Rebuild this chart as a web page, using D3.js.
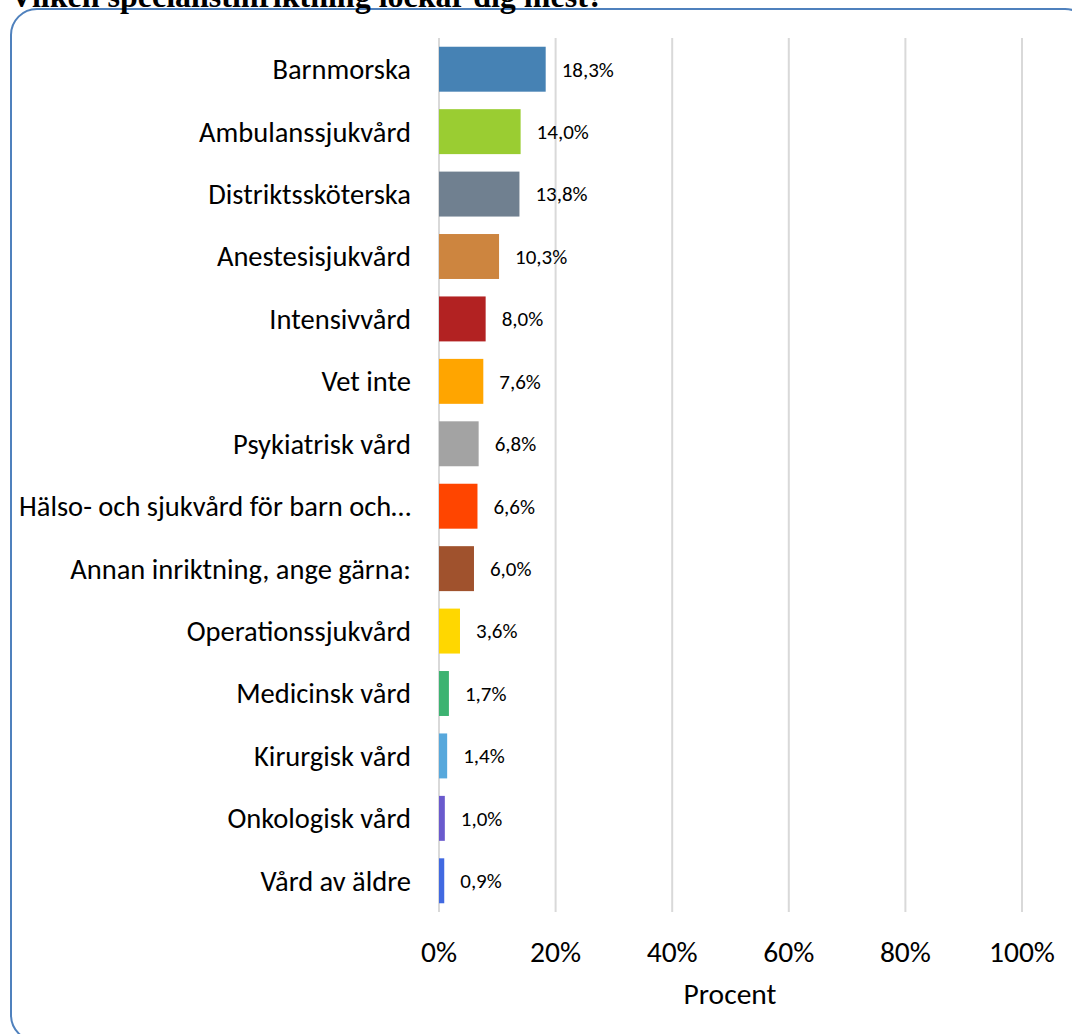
<!DOCTYPE html>
<html>
<head>
<meta charset="utf-8">
<script src="https://cdn.jsdelivr.net/npm/d3@7"></script>
<style>
  body { margin: 0; background: #fff; }
  svg { display: block; }
</style>
</head>
<body>
<svg width="1072" height="1034"></svg>
<script>
var categories = ["Barnmorska", "Ambulanssjukvård", "Distriktssköterska", "Anestesisjukvård",
  "Intensivvård", "Vet inte", "Psykiatrisk vård", "Hälso- och sjukvård för barn och…",
  "Annan inriktning, ange gärna:", "Operationssjukvård", "Medicinsk vård", "Kirurgisk vård",
  "Onkologisk vård", "Vård av äldre"];
var values = [18.3, 14.0, 13.8, 10.3, 8.0, 7.6, 6.8, 6.6, 6.0, 3.6, 1.7, 1.4, 1.0, 0.9];
var colors = ["#4682b4", "#9acd32", "#708090", "#cd853f", "#b22222", "#ffa500", "#a3a3a3",
  "#ff4500", "#a0522d", "#ffd700", "#3cb371", "#57a8dc", "#6a5acd", "#4169e1"];
var ticks = [0, 20, 40, 60, 80, 100];

var svg = d3.select("svg");
var font = "Carlito, Calibri, sans-serif";

// frame
svg.append("rect")
  .attr("x", 11).attr("y", 9)
  .attr("width", 1080).attr("height", 1032)
  .attr("rx", 26).attr("ry", 26)
  .attr("fill", "none")
  .attr("stroke", "#4f81bd")
  .attr("stroke-width", 2);

// title (cut off at top like the reference)
svg.append("text")
  .attr("x", 10).attr("y", 7)
  .attr("font-family", "'Liberation Serif', serif")
  .attr("font-weight", "bold")
  .attr("font-size", 32)
  .text("Vilken specialistinriktning lockar dig mest?");

var x = d3.scaleLinear().domain([0, 100]).range([439, 1022]);
var y = d3.scaleBand().domain(categories).range([38, 912]).paddingInner(0.28).paddingOuter(0.14);

// gridlines
svg.selectAll(".grid")
  .data(ticks)
  .enter()
  .append("line")
  .attr("x1", d => x(d)).attr("x2", d => x(d))
  .attr("y1", 38).attr("y2", 912)
  .attr("stroke", "#d9d9d9")
  .attr("stroke-width", 2);

// bars
svg.selectAll(".bar")
  .data(values)
  .enter()
  .append("rect")
  .attr("x", x(0))
  .attr("y", (d, i) => y(categories[i]))
  .attr("width", d => x(d) - x(0))
  .attr("height", y.bandwidth())
  .attr("fill", (d, i) => colors[i]);

// value labels
svg.selectAll(".val")
  .data(values)
  .enter()
  .append("text")
  .attr("x", d => x(d) + 16)
  .attr("y", (d, i) => y(categories[i]) + y.bandwidth() / 2)
  .attr("dy", "0.35em")
  .attr("font-family", font)
  .attr("font-size", 21)
  .attr("fill", "#000")
  .text(d => d.toFixed(1).replace(".", ",") + "%");

// category labels
svg.selectAll(".cat")
  .data(categories)
  .enter()
  .append("text")
  .attr("x", 411)
  .attr("y", d => y(d) + y.bandwidth() / 2)
  .attr("dy", "0.35em")
  .attr("text-anchor", "end")
  .attr("font-family", font)
  .attr("font-size", 28.5)
  .attr("fill", "#000")
  .text(d => d);

// tick labels
svg.selectAll(".tick")
  .data(ticks)
  .enter()
  .append("text")
  .attr("x", d => x(d))
  .attr("y", 952)
  .attr("dy", "0.35em")
  .attr("text-anchor", "middle")
  .attr("font-family", font)
  .attr("font-size", 29.5)
  .text(d => d + "%");

svg.append("text")
  .attr("x", 730).attr("y", 994)
  .attr("dy", "0.35em")
  .attr("text-anchor", "middle")
  .attr("font-family", font)
  .attr("font-size", 29.5)
  .text("Procent");
</script>
</body>
</html>
